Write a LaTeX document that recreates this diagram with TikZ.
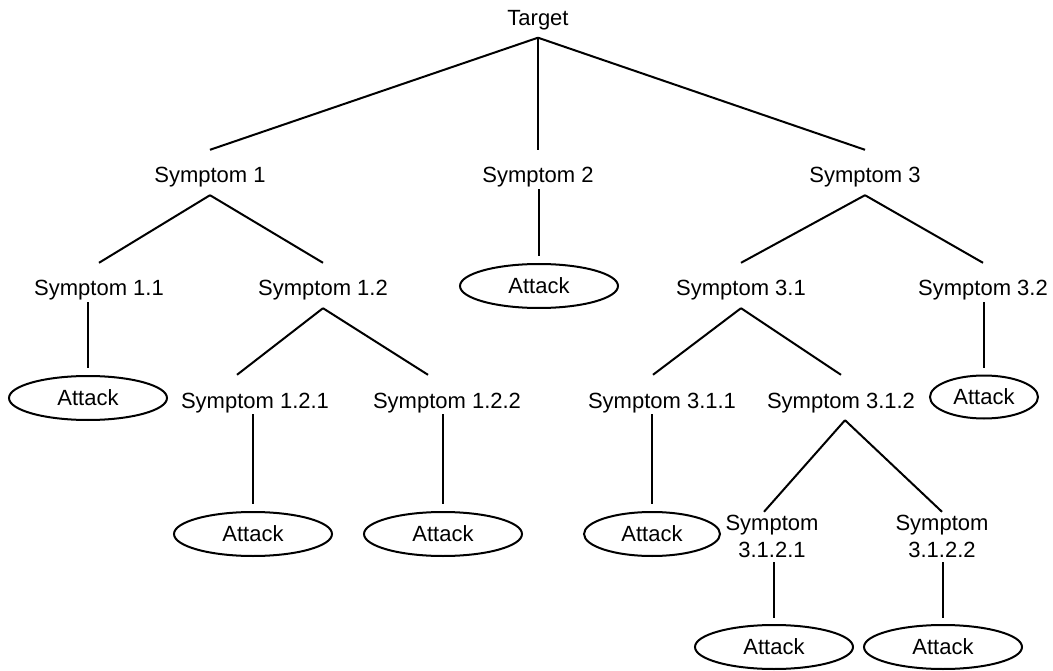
\documentclass[tikz,border=0pt]{standalone}
\usepackage{fontspec}
\newfontfamily\labfont{Liberation Sans}
\usetikzlibrary{shapes.geometric}
\begin{document}
\begin{tikzpicture}[x=1pt,y=-1pt,
  every node/.style={font=\labfont\fontsize{22}{27}\selectfont},
  lab/.style={inner sep=0pt, anchor=base, text height=33pt, text depth=12pt},
  labtwo/.style={inner sep=0pt, anchor=base, text height=18pt, text depth=32pt},
  att/.style={draw, ellipse, inner sep=0pt, minimum width=158pt, minimum height=44pt, line width=2pt},
  edge/.style={line width=2pt},
  vedge/.style={edge, shorten <=-6pt, shorten >=7pt},
  vedgetwo/.style={edge, shorten >=6pt}]
\useasboundingbox (0,0) rectangle (1053,671);
% nodes
\node[lab] (T) at (538,25.5) {Target};
\node[lab] (S1) at (210,183) {Symptom 1};
\node[lab] (S2) at (538,183) {Symptom 2};
\node[lab] (S3) at (865,183) {Symptom 3};
\node[att] (A2) at (539,286) {Attack};
\node[lab] (S11) at (99,296) {Symptom 1.1};
\node[lab] (S12) at (323,296) {Symptom 1.2};
\node[lab] (S31) at (741,296) {Symptom 3.1};
\node[lab] (S32) at (983,296) {Symptom 3.2};
\node[att] (A11) at (88,398) {Attack};
\node[att, minimum width=108pt, minimum height=43pt] (A32) at (984,397) {Attack};
\node[lab] (S121) at (255,408) {Symptom 1.2.1};
\node[lab] (S122) at (447,408) {Symptom 1.2.2};
\node[lab] (S311) at (662,408) {Symptom 3.1.1};
\node[lab] (S312) at (841,408) {Symptom 3.1.2};
\node[att] (A121) at (253,534) {Attack};
\node[att] (A122) at (443,534) {Attack};
\node[att, minimum width=136pt] (A311) at (652,534) {Attack};
\node[labtwo] (S3121) at (772,530) {\begin{tabular}[t]{@{}c@{}}Symptom\\3.1.2.1\end{tabular}};
\node[labtwo] (S3122) at (942,530) {\begin{tabular}[t]{@{}c@{}}Symptom\\3.1.2.2\end{tabular}};
\node[att] (A3121) at (774,647) {Attack};
\node[att] (A3122) at (943,647) {Attack};
% connectors
\draw[edge] (T.south) -- (S1.north);
\draw[edge] (T.south) -- (S2.north);
\draw[edge] (T.south) -- (S3.north);
\draw[vedge] (A2.north |- S2.south) -- (A2.north);
\draw[edge] (S1.south) -- (S11.north);
\draw[edge] (S1.south) -- (S12.north);
\draw[vedge] (A11.north |- S11.south) -- (A11.north);
\draw[edge] (S12.south) -- ([xshift=-18pt]S121.north);
\draw[edge] (S12.south) -- ([xshift=-19pt]S122.north);
\draw[vedge] (A121.north |- S121.south) -- (A121.north);
\draw[vedge] (A122.north |- S122.south) -- (A122.north);
\draw[edge] (S3.south) -- (S31.north);
\draw[edge] (S3.south) -- (S32.north);
\draw[vedge] (A32.north |- S32.south) -- (A32.north);
\draw[edge] (S31.south) -- ([xshift=-9pt]S311.north);
\draw[edge] (S31.south) -- (S312.north);
\draw[vedge] (A311.north |- S311.south) -- (A311.north);
\draw[edge] ([xshift=4pt]S312.south) -- ([xshift=-8pt]S3121.north);
\draw[edge] ([xshift=4pt]S312.south) -- (S3122.north);
\draw[vedgetwo] (A3121.north |- S3121.south) -- (A3121.north);
\draw[vedgetwo] (A3122.north |- S3122.south) -- (A3122.north);
\end{tikzpicture}
\end{document}
